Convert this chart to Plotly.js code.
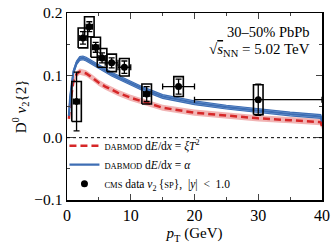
<!DOCTYPE html>
<html><head><meta charset="utf-8">
<script src="https://cdn.plot.ly/plotly-3.0.1.min.js"></script>
<style>html,body{margin:0;padding:0;background:#fff}</style>
</head><body><div id="chart" style="width:332px;height:246px"></div>
<script>
// Model curves
const ptModel = [0.3, 0.5, 1, 1.5, 2, 2.5, 3, 4, 5, 6, 7, 8, 10, 12, 15, 20, 25, 30, 35, 39.8, 40];
const blueV2  = [0.035, 0.065, 0.105, 0.12, 0.127, 0.128, 0.126, 0.12, 0.113, 0.107, 0.102, 0.097, 0.087, 0.078, 0.066, 0.056, 0.049, 0.043, 0.038, 0.034, 0.026];
const blueErr = [0.003, 0.003, 0.003, 0.003, 0.003, 0.003, 0.003, 0.003, 0.003, 0.003, 0.003, 0.003, 0.003, 0.003, 0.003, 0.003, 0.003, 0.003, 0.003, 0.003, 0.003];
const redV2   = [0.03, 0.055, 0.09, 0.102, 0.106, 0.105, 0.103, 0.096, 0.088, 0.082, 0.077, 0.072, 0.064, 0.058, 0.048, 0.04, 0.035, 0.031, 0.028, 0.025, 0.018];
const redErr  = [0.005, 0.005, 0.005, 0.005, 0.005, 0.005, 0.005, 0.005, 0.005, 0.005, 0.005, 0.005, 0.005, 0.005, 0.005, 0.005, 0.005, 0.005, 0.005, 0.005, 0.005];
// CMS data
const ptData  = [1.5, 2.5, 3.5, 4.5, 5.5, 7, 9, 12.5, 17.5, 30];
const ptBinHW = [0.5, 0.5, 0.5, 0.5, 0.5, 1, 1, 0.5, 2.5, 10];
const v2Data  = [0.058, 0.16, 0.178, 0.145, 0.128, 0.12, 0.113, 0.07, 0.082, 0.061];
const statErr = [0.047, 0.01, 0.008, 0.008, 0.008, 0.008, 0.01, 0.012, 0.012, 0.025];
const systErr = [0.032, 0.016, 0.016, 0.016, 0.015, 0.014, 0.014, 0.016, 0.016, 0.024];

const boxHW = 0.75;
const bx = [], by = [];
for (let i = 0; i < ptData.length; i++) {
  const x0 = ptData[i] - boxHW, x1 = ptData[i] + boxHW;
  const y0 = v2Data[i] - systErr[i], y1 = v2Data[i] + systErr[i];
  bx.push(x0, x1, x1, x0, x0, null);
  by.push(y0, y0, y1, y1, y0, null);
}
const lo = (a, e) => a.map((v, i) => v - e[i]);
const hi = (a, e) => a.map((v, i) => v + e[i]);

const RED = 'rgb(214,39,40)', BLUE = 'rgb(62,110,180)';
const sc = s => "<span style='font-size:8.5px'>" + s + "</span>";
const traces = [
  {x: ptModel, y: lo(redV2, redErr), mode: 'lines', line: {width: 0}, showlegend: false, hoverinfo: 'skip'},
  {x: ptModel, y: hi(redV2, redErr), mode: 'lines', line: {width: 0}, fill: 'tonexty', fillcolor: 'rgba(232,130,130,0.6)', showlegend: false, hoverinfo: 'skip'},
  {x: ptModel, y: lo(blueV2, blueErr), mode: 'lines', line: {width: 1.2, color: BLUE}, showlegend: false, hoverinfo: 'skip'},
  {x: ptModel, y: hi(blueV2, blueErr), mode: 'lines', line: {width: 1.2, color: BLUE}, fill: 'tonexty', fillcolor: 'rgba(130,168,220,0.9)', showlegend: false, hoverinfo: 'skip'},
  {x: ptModel, y: redV2, mode: 'lines', name: sc('DABMOD') + ' d<i>E</i>/d<i>x</i> = <i>ξT</i><sup>2</sup>', line: {width: 2.5, color: RED, dash: '7px,4px'}},
  {x: ptModel, y: blueV2, mode: 'lines', name: sc('DABMOD') + ' d<i>E</i>/d<i>x</i> = <i>α</i>', line: {width: 2.2, color: BLUE}},
  {x: bx, y: by, mode: 'lines', line: {width: 1.6, color: 'black'}, showlegend: false, hoverinfo: 'skip'},
  {x: ptData, y: v2Data, mode: 'markers',
   name: sc('CMS') + ' data <i>v</i><sub>2</sub>\u2009{' + sc('SP') + '},\u2002|<i>y</i>|\u2002&lt;\u20021.0',
   marker: {size: 7, color: 'black'},
   error_y: {type: 'data', array: statErr, color: 'black', thickness: 1.3, width: 3},
   error_x: {type: 'data', array: ptBinHW, color: 'black', thickness: 1.3, width: 3}}
];

const F = 'Liberation Serif, Times New Roman, serif';
const layout = {
  width: 332, height: 246,
  margin: {l: 67, r: 10, t: 13, b: 46},
  paper_bgcolor: 'white', plot_bgcolor: 'white',
  font: {family: F, size: 13, color: 'black'},
  showlegend: true,
  legend: {x: -0.01, y: 0.01, xanchor: 'left', yanchor: 'bottom', bgcolor: 'rgba(0,0,0,0)', font: {size: 11.5}, traceorder: 'normal', tracegroupgap: 0, itemwidth: 30},
  xaxis: {range: [0, 40], showgrid: false, zeroline: false, showline: true, mirror: 'ticks', linewidth: 1.5, linecolor: 'black',
    ticks: 'inside', ticklen: 6, tickwidth: 1.2, dtick: 10, tick0: 0,
    minor: {ticks: 'inside', ticklen: 3, dtick: 5, tickwidth: 1},
    tickfont: {size: 16}, title: {text: '<i>p</i><sub>T</sub> (GeV)', font: {size: 15}, standoff: 5}},
  yaxis: {range: [-0.1, 0.2], showgrid: false, zeroline: false, showline: true, mirror: 'ticks', linewidth: 1.5, linecolor: 'black',
    ticks: 'inside', ticklen: 6, tickwidth: 1.2, dtick: 0.1, tick0: 0, tickformat: '.1f',
    minor: {ticks: 'inside', ticklen: 3, dtick: 0.05, tickwidth: 1},
    tickfont: {size: 15.5}, title: {text: 'D<sup>0</sup> <i>v</i><sub>2</sub>{2}', font: {size: 15}, standoff: 4}},
  shapes: [{type: 'line', xref: 'paper', x0: 0, x1: 1, yref: 'y', y0: 0, y1: 0, line: {color: 'black', width: 1, dash: 'dot'}}],
  annotations: [
    {xref: 'paper', yref: 'paper', x: 0.96, y: 0.9, xanchor: 'right', yanchor: 'middle', showarrow: false, text: '30–50% PbPb', font: {size: 14.5}},
    {xref: 'paper', yref: 'paper', x: 0.96, y: 0.8, xanchor: 'right', yanchor: 'middle', showarrow: false, text: '√<span style="text-decoration:overline"><i>s</i></span><sub>NN</sub> = 5.02 TeV', font: {size: 15}}
  ]
};
Plotly.newPlot('chart', traces, layout, {displayModeBar: false, staticPlot: true});
</script></body></html>
